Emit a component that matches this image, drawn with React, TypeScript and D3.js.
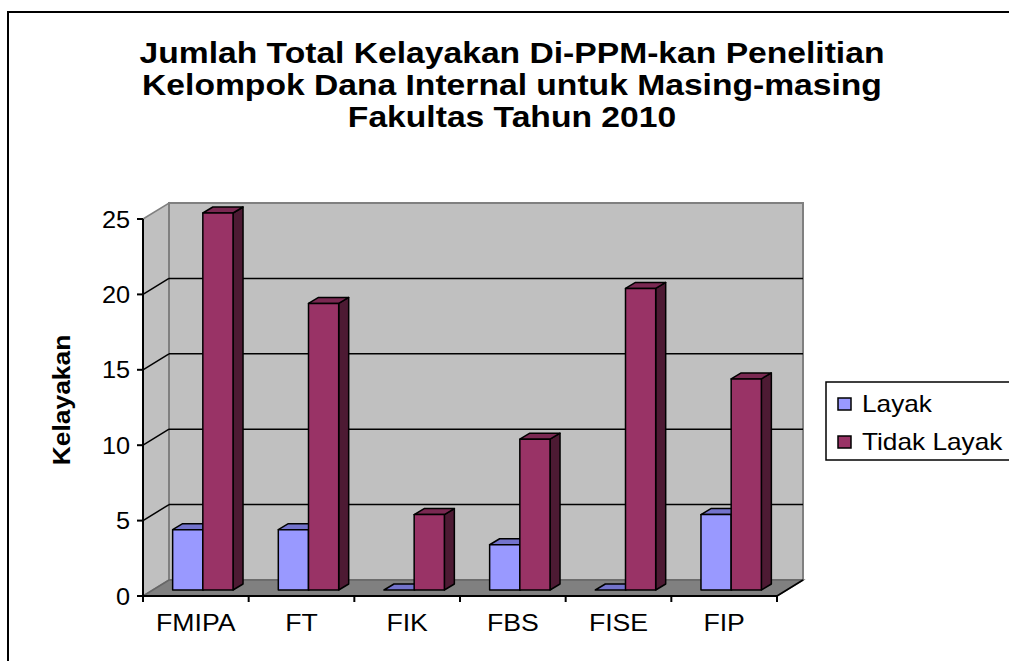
import React from "react";
import * as d3 from "d3";

const categories = ["FMIPA", "FT", "FIK", "FBS", "FISE", "FIP"];
const layak = [4, 4, 0, 3, 0, 5];
const tidakLayak = [25, 19, 5, 10, 20, 14];
const yTicks = [0, 5, 10, 15, 20, 25];
const seriesNames = ["Layak", "Tidak Layak"];
const titleLines = [
  "Jumlah Total Kelayakan Di-PPM-kan Penelitian",
  "Kelompok Dana Internal untuk Masing-masing",
  "Fakultas Tahun 2010",
];
const yTitle = "Kelayakan";

const FONT = "'Liberation Sans', Arial, Helvetica, sans-serif";

// geometry
const X0 = 143, X1 = 777;
const Y0 = 596, Y1 = 219;
const DX = 26, DY = -16; // full depth
const PX = 8, PY = -6; // bar plane offset
const BX = 10, BY = -6; // bar thickness

const colors = [
  { front: "#9999FF", top: "#7373CC", side: "#4D4D80" },
  { front: "#993366", top: "#7A2952", side: "#4D1A33" },
];

const T = ({ x, y, children, size = 24, sx = 1.12, anchor = "middle", weight = "normal", rotate = 0 }: any) => (
  <text
    transform={`translate(${x},${y}) rotate(${rotate}) scale(${sx},1)`}
    textAnchor={anchor}
    fontFamily={FONT}
    fontSize={size}
    fontWeight={weight}
    fill="#000"
  >
    {children}
  </text>
);

const pts = (a: number[][]) => a.map((p) => p.join(",")).join(" ");

export default function App() {
  const x = d3.scaleBand<string>().domain(categories).range([X0, X1]).padding(0);
  const y = d3.scaleLinear().domain([0, 25]).range([Y0, Y1]);
  const bw = x.bandwidth();
  const w = bw / 3.5;

  const bars: any[] = [];
  categories.forEach((c, i) => {
    [layak[i], tidakLayak[i]].forEach((v, s) => {
      const bx = (x(c) as number) + 0.75 * w - 1 + s * w + PX;
      const yb = y(0) + PY;
      const yt = y(v) + PY;
      const col = colors[s];
      bars.push(
        <g key={`${c}-${s}`} stroke="#000" strokeWidth={1.5} strokeLinejoin="round">
          {v > 0 && (
            <polygon
              points={pts([[bx + w, yb], [bx + w + BX, yb + BY], [bx + w + BX, yt + BY], [bx + w, yt]])}
              fill={col.side}
            />
          )}
          <polygon
            points={pts([[bx, yt], [bx + w, yt], [bx + w + BX, yt + BY], [bx + BX, yt + BY]])}
            fill={col.top}
          />
          {v > 0 && <rect x={bx} y={yt} width={w} height={yb - yt} fill={col.front} />}
        </g>
      );
    });
  });

  const gridVals = yTicks.filter((t) => t > 0 && t < 25);

  return (
    <svg width={1009} height={661} style={{ position: "absolute", left: 0, top: 0, background: "#fff" }}>
      <rect x={8} y={12} width={1020} height={680} fill="#fff" stroke="#000" strokeWidth={2} />
      {titleLines.map((l, i) => (
        <T key={i} x={512} y={63 + i * 32} size={29} sx={1.16} weight="bold">
          {l}
        </T>
      ))}
      {/* walls */}
      <polygon
        points={pts([[X0, Y1], [X0 + DX, Y1 + DY], [X0 + DX, Y0 + DY], [X0, Y0]])}
        fill="#C0C0C0"
        stroke="#808080"
        strokeWidth={1.5}
      />
      <rect
        x={X0 + DX}
        y={Y1 + DY}
        width={X1 + DX - (X0 + DX)}
        height={Y0 - Y1}
        fill="#C0C0C0"
        stroke="#808080"
        strokeWidth={2}
      />
      <polygon
        points={pts([[X0, Y0], [X1, Y0], [X1 + DX, Y0 + DY], [X0 + DX, Y0 + DY]])}
        fill="#808080"
        stroke="#666"
        strokeWidth={1.5}
      />
      {gridVals.map((t) => (
        <g key={t} stroke="#000" strokeWidth={1.5}>
          <line x1={X0} y1={y(t)} x2={X0 + DX} y2={y(t) + DY} />
          <line x1={X0 + DX} y1={y(t) + DY} x2={X1 + DX} y2={y(t) + DY} />
        </g>
      ))}
      {bars}
      {/* axes */}
      <line x1={X0} y1={Y1} x2={X0} y2={Y0} stroke="#000" strokeWidth={2} />
      <line x1={X0} y1={Y0} x2={X1} y2={Y0} stroke="#000" strokeWidth={2} />
      <line x1={X1} y1={Y0} x2={X1 + DX} y2={Y0 + DY} stroke="#000" strokeWidth={1.5} />
      {yTicks.map((t) => (
        <g key={t}>
          <line x1={X0 - 6} y1={y(t)} x2={X0} y2={y(t)} stroke="#000" strokeWidth={2} />
          <T x={130} y={y(t) + 8.5} anchor="end" size={23} sx={1.1}>
            {t}
          </T>
        </g>
      ))}
      {[...categories.map((c) => x(c) as number), X1].map((v, i) => (
        <line key={i} x1={v} y1={Y0} x2={v} y2={Y0 + 6} stroke="#000" strokeWidth={2} />
      ))}
      {categories.map((c) => (
        <T key={c} x={(x(c) as number) + bw / 2} y={631} size={23} sx={1.16}>
          {c}
        </T>
      ))}
      <T x={70} y={400} size={24} sx={1.1} weight="bold" rotate={-90}>
        {yTitle}
      </T>
      {/* legend */}
      <rect x={826} y={382} width={200} height={78} fill="#fff" stroke="#000" strokeWidth={1.5} />
      {seriesNames.map((n, i) => (
        <g key={n}>
          <rect x={838} y={398 + i * 38} width={13} height={12} fill={colors[i].front} stroke="#000" strokeWidth={1.5} />
          <T x={862} y={412 + i * 38} anchor="start" size={23} sx={1.14}>
            {n}
          </T>
        </g>
      ))}
    </svg>
  );
}
